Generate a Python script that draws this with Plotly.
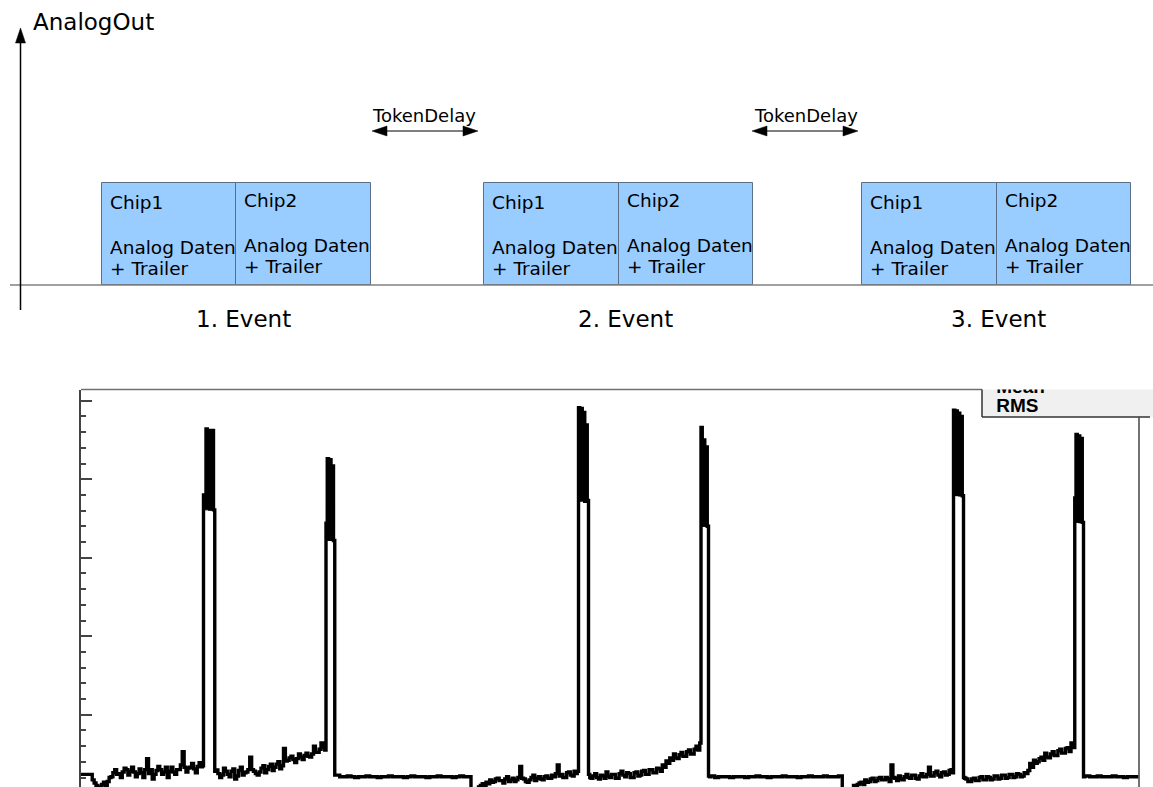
import plotly.graph_objects as go

# ---------------- top schematic (time axis in arbitrary units) ----------------
axis_label = "AnalogOut"
event_labels = ["1. Event", "2. Event", "3. Event"]
event_start = [101.7, 484.0, 862.0]
event_label_x = [243, 625, 998]
chip_names = ["Chip1", "Chip2"]
chip_width = 134.7
chip_height = 102
payload_lines = ["Analog Daten", "+ Trailer"]
chip_text_lift = [0, 2]
token_delay_label = "TokenDelay"
token_delay_from = [372, 752]
token_delay_to = [478, 858]
token_delay_center = [424, 806]

# ---------------- bottom histogram (ADC vs. sample) ----------------
# sub-lists are finer sub-bins inside one sample
event1_adc = [24, 24, 24,
              [17, 13], [10, 8], [7, 11], [14, 10], [15, 20], [21, 26], [30, 24], [25, 20], [27, 32],
              [30, 23], [28, 33], [27, 21], [25, 31], [26, 20], [30, 44], [25, 30], [18, 24], [29, 34],
              [30, 24], [27, 33], [20, 28], [33, 27], [24, 30], [30, 36], [53, 33], [27, 32], [33, 38],
              [31, 26], [34, 39],
              [33.5, 35, 380], [375, 464, 365], [462, 362, 460], [462, 361, 28],
              [29.6, 25], [20, 23], [32, 28], [24, 21], [28, 31], [18, 22], [29, 33], [23, 26], [27, 30],
              [46, 30], [28, 25], [23, 27], [32, 35], [26, 30], [34, 37], [29, 33], [37, 40], [31, 35],
              [57, 41], [42, 45], [47, 43], [39, 44], [50, 46], [43, 48], [51, 47], [46, 50], [60, 52],
              [52, 56], [64, 58],
              [55, 344, 426], [335, 425, 330], [417, 322, 23],
              23, 21, 21, 22, 21, 20, 21, 21, 22, 21, 21, 20, 21, 21, 22, 21, 21, 21, 20, 21,
              22, 21, 21, 21, 20, 21, 21, 22, 21, 21, 21, 20, 21, 22, 21, 21]
event2_adc = [3, 3,
              [8, 10], [12, 10], [14, 12], [17, 14], [15, 18], [19, 16], [16, 13], [18, 21], [15, 17],
              [19, 15], [17, 20], [34, 19], [18, 15], [14, 17], [20, 23], [16, 19], [21, 18], [17, 21],
              [22, 19], [19, 23], [21, 25], [36, 22], [24, 20], [20, 26], [27, 23], [22, 28],
              [25, 28, 491], [380, 490, 375], [485, 372, 469], [373, 24, 20],
              [19, 22], [25, 20], [18, 23], [22, 19], [27, 22], [20, 24], [24, 19], [19, 25], [28, 23],
              [21, 26], [25, 20], [20, 26], [27, 22], [23, 28], [29, 24], [24, 30], [30, 26], [26, 32],
              [31, 28], [36, 33], [41, 38], [45, 42], [50, 45], [44, 49], [52, 47], [47, 53], [55, 50],
              [50, 56], [60, 55],
              [64, 466, 345], [450, 342, 441], [340, 22, 21],
              22, 20, 21, 21, 21, 20, 21, 21, 21, 20, 21, 21, 22, 21, 21, 20, 21, 21, 21, 22,
              21, 21, 21, 20, 21, 21, 22, 21, 21, 21, 22, 21, 21, 21, 22]
event3_adc = [3, 3, 3,
              [10, 8], [11, 13], [14, 11], [17, 14], [15, 18], [19, 15], [16, 19], [20, 17], [17, 20],
              [18, 15], [36, 20], [19, 16], [22, 18], [17, 21], [24, 20], [19, 23], [23, 19], [18, 22],
              [25, 21], [21, 24], [33, 22], [22, 26], [28, 23], [21, 26], [27, 23], [24, 29],
              [30, 26, 488], [382, 487, 381], [484, 380, 480], [379, 20, 19],
              [18, 15], [15, 18], [19, 16], [16, 20], [21, 17], [17, 21], [20, 17], [18, 22], [22, 18],
              [19, 23], [23, 19], [20, 24], [24, 20], [21, 25], [24, 21], [22, 26], [25, 29], [38, 33],
              [42, 38], [40, 44], [46, 42], [51, 46], [45, 50], [53, 48], [48, 54], [56, 51], [51, 57],
              [58, 53], [64, 58],
              [376, 457, 348], [455, 346, 452], [345, 21, 22],
              22, 21, 21, 22, 21, 21, 21, 22, 21, 21, 20, 21, 21, 21]
y_major = 100
y_minor = 20
y_range = [7.9, 514.3]
stats_labels = ["Mean", "RMS"]
peak_threshold = 200

# ---------------- build histogram steps ----------------
adc = event1_adc + event2_adc + event3_adc
xs, ys, ws = [], [], []
for i, v in enumerate(adc):
    if isinstance(v, list):
        for k, sv in enumerate(v):
            xs.append(i + k / len(v))
            ys.append(sv)
            ws.append(1 / len(v))
    else:
        xs.append(i)
        ys.append(v)
        ws.append(1)

# group contiguous above-threshold sub-bins (the saturated peak blocks)
peak_groups, cur = [], []
for x, y, w in zip(xs, ys, ws):
    if y > peak_threshold:
        cur.append((x, y, w))
    elif cur:
        peak_groups.append(cur)
        cur = []

xs_line = xs + [len(adc)]
ys_line = ys + [ys[-1]]

W, H = 1153, 787
FONT = "DejaVu Sans"

fig = go.Figure()

for grp in peak_groups:
    lo = min(g[1] for g in grp)
    px_, py_ = [grp[0][0]], [lo]
    for x, y, w in grp:
        px_ += [x, x + w]
        py_ += [y, y]
    px_ += [grp[-1][0] + grp[-1][2], grp[0][0]]
    py_ += [lo, lo]
    fig.add_trace(go.Scatter(x=px_, y=py_, mode="lines", fill="toself", fillcolor="black",
                             line=dict(color="black", width=1), xaxis="x", yaxis="y",
                             showlegend=False, hoverinfo="skip"))

fig.add_trace(go.Scatter(x=xs_line, y=ys_line, mode="lines",
                         line=dict(color="black", width=3.4, shape="hv", simplify=False),
                         xaxis="x", yaxis="y", showlegend=False, hoverinfo="skip"))

# ---- top schematic traces ----
bar_x = []
for s in event_start:
    for j in range(len(chip_names)):
        bar_x.append(s + chip_width * (j + 0.5))
fig.add_trace(go.Bar(x=bar_x, y=[chip_height] * len(bar_x), base=0, width=chip_width,
                     marker=dict(color="#99ccff", line=dict(color="#5a6e88", width=1)),
                     xaxis="x2", yaxis="y2", showlegend=False, hoverinfo="skip"))

# horizontal time axis
fig.add_trace(go.Scatter(x=[10, 1153], y=[0, 0], mode="lines", line=dict(color="#808080", width=1.3),
                         xaxis="x2", yaxis="y2", showlegend=False, hoverinfo="skip"))
# vertical AnalogOut axis with arrow
ax_x, ax_bottom, ax_tip = 20.5, -25, 257
head_len, head_half = 15, 5
fig.add_trace(go.Scatter(x=[ax_x, ax_x], y=[ax_bottom, ax_tip - head_len], mode="lines",
                         line=dict(color="black", width=1.5),
                         xaxis="x2", yaxis="y2", showlegend=False, hoverinfo="skip"))
fig.add_trace(go.Scatter(x=[ax_x - head_half, ax_x + head_half, ax_x, ax_x - head_half],
                         y=[ax_tip - head_len, ax_tip - head_len, ax_tip, ax_tip - head_len],
                         mode="lines", fill="toself", fillcolor="black", line=dict(color="black", width=0.5),
                         xaxis="x2", yaxis="y2", showlegend=False, hoverinfo="skip"))

# token delay double arrows
arrow_y = 154
for a, b in zip(token_delay_from, token_delay_to):
    fig.add_trace(go.Scatter(x=[a + head_len - 1, b - head_len + 1], y=[arrow_y, arrow_y], mode="lines",
                             line=dict(color="black", width=1.2),
                             xaxis="x2", yaxis="y2", showlegend=False, hoverinfo="skip"))
    for tip, d in ((a, 1), (b, -1)):
        fig.add_trace(go.Scatter(x=[tip + d * head_len, tip + d * head_len, tip, tip + d * head_len],
                                 y=[arrow_y - head_half, arrow_y + head_half, arrow_y, arrow_y - head_half],
                                 mode="lines", fill="toself", fillcolor="black",
                                 line=dict(color="black", width=0.5),
                                 xaxis="x2", yaxis="y2", showlegend=False, hoverinfo="skip"))

# stats box text (clipped at the top like the reference)
fig.add_trace(go.Scatter(x=[0.085, 0.085], y=[1.05, 0.37], mode="text", text=stats_labels,
                         textposition="middle right",
                         textfont=dict(family="Liberation Sans", size=19, color="black", weight="bold"),
                         cliponaxis=True, xaxis="x3", yaxis="y3", showlegend=False, hoverinfo="skip"))

# ---- annotations ----
ann = []
ann.append(dict(x=31, y=263, text=axis_label, xref="x2", yref="y2", showarrow=False,
                xanchor="left", yanchor="middle", font=dict(family=FONT, size=23, color="black")))
for k, s in enumerate(event_start):
    for j, name in enumerate(chip_names):
        x0 = s + chip_width * j + 6
        lift = chip_text_lift[j]
        ann.append(dict(x=x0, y=82.5 + lift, text=name, xref="x2", yref="y2", showarrow=False,
                        xanchor="left", yanchor="middle", font=dict(family=FONT, size=18.5, color="black")))
        ann.append(dict(x=x0, y=37.5 + lift, text=payload_lines[0], xref="x2", yref="y2", showarrow=False,
                        xanchor="left", yanchor="middle", font=dict(family=FONT, size=18.5, color="black")))
        ann.append(dict(x=x0, y=16.5 + lift, text=payload_lines[1], xref="x2", yref="y2", showarrow=False,
                        xanchor="left", yanchor="middle", font=dict(family=FONT, size=18.5, color="black")))
    ann.append(dict(x=event_label_x[k], y=-34, text=event_labels[k], xref="x2", yref="y2", showarrow=False,
                    xanchor="center", yanchor="middle", font=dict(family=FONT, size=23, color="black")))
for c in token_delay_center:
    ann.append(dict(x=c, y=170, text=token_delay_label, xref="x2", yref="y2", showarrow=False,
                    xanchor="center", yanchor="middle", font=dict(family=FONT, size=18, color="black")))

# ---- frame / stats box shapes ----
def px_x(p):
    return p / W

def px_y(p):
    return 1 - p / H

shapes = [
    dict(type="rect", xref="paper", yref="paper", x0=px_x(982), x1=px_x(1153), y0=px_y(417), y1=px_y(389.5),
         fillcolor="#f0f0f0", line=dict(width=0), layer="below"),
    dict(type="line", xref="paper", yref="paper", x0=px_x(81), x1=px_x(982), y0=px_y(389.5), y1=px_y(389.5),
         line=dict(color="#707070", width=1.5)),
    dict(type="line", xref="paper", yref="paper", x0=px_x(982), x1=px_x(982), y0=px_y(417), y1=px_y(389.5),
         line=dict(color="#333333", width=1.5)),
    dict(type="line", xref="paper", yref="paper", x0=px_x(982), x1=px_x(1150), y0=px_y(417), y1=px_y(417),
         line=dict(color="#333333", width=1.5)),
    dict(type="line", xref="paper", yref="paper", x0=px_x(1139), x1=px_x(1139), y0=0, y1=px_y(417),
         line=dict(color="#444444", width=1.5)),
]

fig.update_layout(
    width=W, height=H, margin=dict(l=0, r=0, t=0, b=0),
    paper_bgcolor="white", plot_bgcolor="rgba(0,0,0,0)",
    showlegend=False, annotations=ann, shapes=shapes, bargap=0,
    xaxis=dict(domain=[px_x(81), px_x(1139)], range=[0, len(adc) + 0.13], visible=False),
    yaxis=dict(domain=[0, px_y(389.5)], range=y_range, showgrid=False, zeroline=False,
               showticklabels=False, showline=True, linecolor="#444", linewidth=2,
               ticks="inside", ticklen=11, tickwidth=2, tickcolor="#444", dtick=y_major, tick0=0,
               minor=dict(ticks="inside", ticklen=5, tickwidth=2, tickcolor="#444", dtick=y_minor, tick0=0)),
    xaxis2=dict(domain=[0, 1], range=[0, W], visible=False, anchor="y2"),
    yaxis2=dict(domain=[px_y(340), 1], range=[-55, 285], visible=False, anchor="x2"),
    xaxis3=dict(domain=[px_x(982), px_x(1150)], range=[0, 1], visible=False, anchor="y3"),
    yaxis3=dict(domain=[px_y(417), px_y(389.5)], range=[0, 1], visible=False, anchor="x3"),
)

fig.write_html("out.html")
